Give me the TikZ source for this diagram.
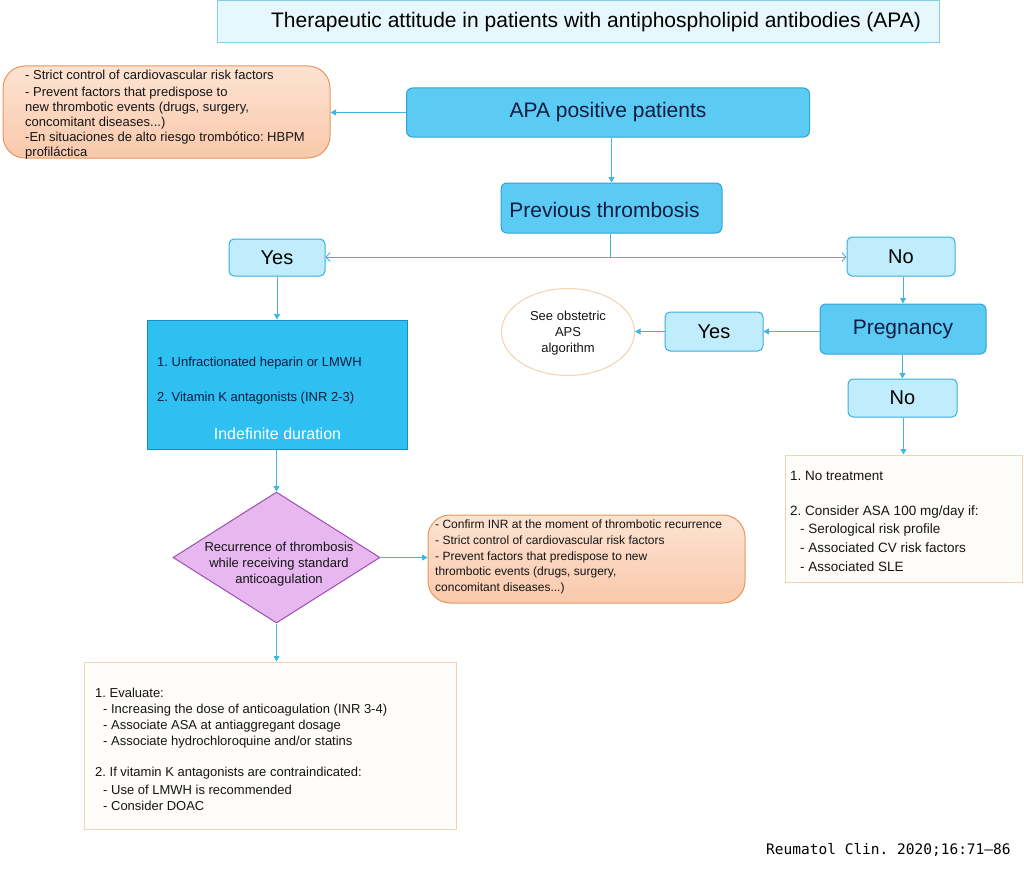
\documentclass[tikz,border=0pt]{standalone}
\usepackage{fontspec}
\setmainfont{Liberation Sans}
\newfontfamily\citefont{DejaVu Sans Mono}
\usetikzlibrary{shapes.geometric,arrows.meta}
\newcommand{\fsz}[2]{\fontsize{#1}{#2}\selectfont\frenchspacing}
\definecolor{connc}{HTML}{40B4E2}
\definecolor{midfill}{HTML}{5CCBF4}
\definecolor{middraw}{HTML}{2FA3D4}
\definecolor{litefill}{HTML}{C0ECFB}
\definecolor{litedraw}{HTML}{3AAEDA}
\definecolor{bigfill}{HTML}{2DC0F1}
\definecolor{bigdraw}{HTML}{1C8CC2}
\definecolor{peachtop}{HTML}{FDE3D2}
\definecolor{peachbot}{HTML}{F9C9AB}
\definecolor{peachdraw}{HTML}{E8955C}
\definecolor{lavfill}{HTML}{E7B7EF}
\definecolor{lavdraw}{HTML}{9A50AE}
\definecolor{creamfill}{HTML}{FFFDF9}
\definecolor{creamdraw}{HTML}{F2D2B2}
\definecolor{titlefill}{HTML}{E6F8FD}
\definecolor{titledraw}{HTML}{86CEE3}
\definecolor{navy}{HTML}{0E1C42}
\definecolor{bodytxt}{HTML}{151515}
\begin{document}
\frenchspacing
\begin{tikzpicture}[x=1pt,y=-1pt,
  boxbase/.style={rectangle, inner sep=0pt, line width=1pt},
  titlebox/.style={boxbase, draw=titledraw, fill=titlefill},
  peachbox/.style={boxbase, draw=peachdraw, top color=peachtop, bottom color=peachbot, rounded corners=22pt},
  midbox/.style={boxbase, draw=middraw, fill=midfill, rounded corners=6pt, text=navy, font=\fsz{21}{25}},
  litebox/.style={boxbase, draw=litedraw, fill=litefill, rounded corners=5pt, text=black, font=\fsz{20}{24}},
  bigbox/.style={boxbase, draw=bigdraw, fill=bigfill},
  creambox/.style={boxbase, draw=creamdraw, fill=creamfill},
  txt/.style={inner sep=0pt, align=left, anchor=west, text=bodytxt},
  conn/.style={draw=connc, line width=0.9pt, -{Triangle[length=5.5pt,width=6pt]}},
  connopen/.style={draw=connc, line width=0.9pt, {Straight Barb[length=4pt,width=9pt]}-{Straight Barb[length=4pt,width=9pt]}},
  connplain/.style={draw=connc, line width=0.9pt}
]
\useasboundingbox (0,0) rectangle (1024,872);

% title
\node[titlebox, minimum width=722pt, minimum height=42pt] (title) at (578.5,22) {};
\node[txt, anchor=center, text=black, font=\fsz{21}{25}] (titletxt) at (596,22.5) {Therapeutic attitude in patients with antiphospholipid antibodies (APA)};

% top-left risk box
\node[peachbox, minimum width=327pt, minimum height=92pt] (risk1) at (166.5,112) {};
\node[txt, font=\fsz{13}{15}] (risk1txt) at (25,115) {- Strict control of cardiovascular risk factors\\[2pt]- Prevent factors that predispose to\\new thrombotic events (drugs, surgery,\\concomitant diseases...)\\-En situaciones de alto riesgo trombótico: HBPM\\profiláctica};

% main flow
\node[midbox, minimum width=403pt, minimum height=49pt] (apa) at (608,112.5) {APA positive patients};
\node[midbox, minimum width=221pt, minimum height=50pt] (prev) at (611.5,208) {};
\node[inner sep=0pt, text=navy, font=\fsz{21}{25}] (prevtxt) at (604.5,209.5) {Previous thrombosis};

\node[litebox, minimum width=96pt, minimum height=37pt] (yes1) at (277,257.5) {Yes};
\node[litebox, minimum width=108pt, minimum height=39pt] (no1) at (901,256.5) {No};

% left branch
\node[bigbox, minimum width=260pt, minimum height=129pt] (treat) at (277.5,384.5) {};
\node[txt, text=navy, font=\fsz{13}{15}] (treat1) at (157,363) {1. Unfractionated heparin or LMWH};
\node[txt, text=navy, font=\fsz{13}{15}] (treat2) at (157,398) {2. Vitamin K antagonists (INR 2-3)};
\node[inner sep=0pt, text=white, font=\fsz{16}{19}] (treat3) at (277.5,434) {Indefinite duration};

\node[diamond, draw=lavdraw, fill=lavfill, line width=1pt, inner sep=0pt, minimum width=207pt, minimum height=131pt] (recur) at (276.5,557.5) {};
\node[inner sep=0pt, align=center, text=bodytxt, font=\fsz{13}{15.7}] (recurtxt) at (279,564) {Recurrence of thrombosis\\while receiving standard\\anticoagulation};

\node[peachbox, minimum width=317pt, minimum height=88pt] (risk2) at (586.5,559) {};
\node[txt, font=\fsz{12}{15.7}] (risk2txt) at (435,557) {- Confirm INR at the moment of thrombotic recurrence\\- Strict control of cardiovascular risk factors\\- Prevent factors that predispose to new\\thrombotic events (drugs, surgery,\\concomitant diseases...)};

\node[creambox, minimum width=372pt, minimum height=167pt] (evalbox) at (270,745.5) {};
\node[txt, font=\fsz{13}{16}] (evaltxt) at (95,749) {1. Evaluate:\\
\hspace*{8pt}- Increasing the dose of anticoagulation (INR 3-4)\\
\hspace*{8pt}- Associate ASA at antiaggregant dosage\\
\hspace*{8pt}- Associate hydrochloroquine and/or statins\\[15pt]
2. If vitamin K antagonists are contraindicated:\\[2pt]
\hspace*{8pt}- Use of LMWH is recommended\\
\hspace*{8pt}- Consider DOAC};

% right branch
\node[midbox, minimum width=166pt, minimum height=50pt] (preg) at (903,329) {Pregnancy};
\node[litebox, minimum width=98pt, minimum height=39pt] (yes2) at (714,331.5) {Yes};
\node[ellipse, draw=creamdraw, fill=white, line width=1pt, inner sep=0pt, minimum width=133pt, minimum height=87pt] (obst) at (568,332) {};
\node[inner sep=0pt, align=center, text=bodytxt, font=\fsz{13}{16}] (obsttxt) at (568,333) {See obstetric\\APS\\algorithm};
\node[litebox, minimum width=109pt, minimum height=38pt] (no2) at (902.5,398) {No};

\node[creambox, minimum width=237pt, minimum height=127pt] (notreat) at (903.5,518.5) {};
\node[txt, font=\fsz{13.5}{19}] (notreattxt) at (790,521) {1. No treatment\\[16pt]
2. Consider ASA 100 mg/day if:\\[-1pt]
\hspace*{10pt}- Serological risk profile\\
\hspace*{10pt}- Associated CV risk factors\\
\hspace*{10pt}- Associated SLE};

% citation
\node[txt, text=black, font=\citefont\fsz{14.5}{17}] (cite) at (766,850) {Reumatol Clin. 2020;16:71–86};

% connectors
\draw[conn] (apa.west) -- (risk1.east |- apa.west);
\draw[conn] (apa.south -| prev.north) -- (prev.north);
\coordinate (split) at (610,257);
\draw[connplain] (prev.south -| split) -- (split);
\draw[connopen] (yes1.east |- split) -- (no1.west |- split);
\draw[conn] (yes1.south) -- (yes1.south |- treat.north);
\draw[conn] (treat.south -| recur.north) -- (recur.north);
\draw[conn] (recur.east) -- (risk2.west |- recur.east);
\draw[conn] (recur.south) -- (recur.south |- evalbox.north);
\draw[conn] (no1.south -| preg.north) -- (preg.north);
\draw[conn] (preg.west |- yes2.east) -- (yes2.east);
\draw[conn] (yes2.west) -- (obst.east |- yes2.west);
\draw[conn] (preg.south -| no2.north) -- (no2.north);
\draw[conn] (no2.south -| notreat.north) -- (notreat.north);
\end{tikzpicture}
\end{document}
